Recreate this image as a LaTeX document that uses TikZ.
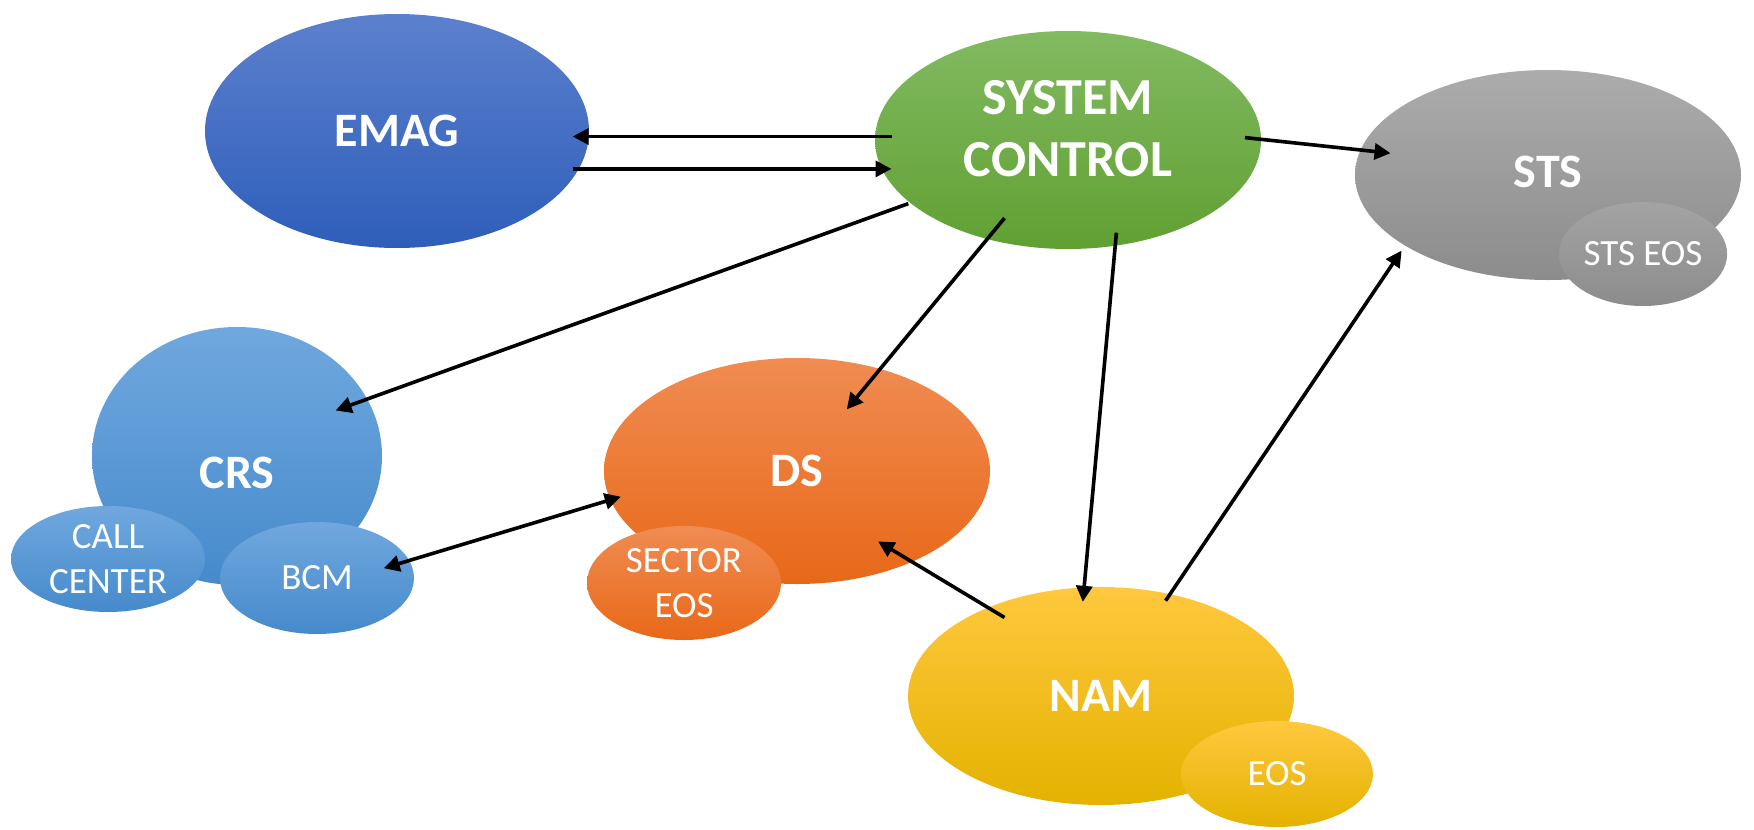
\documentclass[tikz,border=0pt]{standalone}
\usepackage{fontspec}
\setmainfont{Carlito}
\usetikzlibrary{arrows.meta,calc,shapes.geometric}
\definecolor{emagT}{RGB}{92,128,205}
\definecolor{emagB}{RGB}{46,94,186}
\definecolor{scT}{RGB}{130,186,97}
\definecolor{scB}{RGB}{96,160,50}
\definecolor{stsT}{RGB}{172,172,172}
\definecolor{stsB}{RGB}{140,140,140}
\definecolor{crsT}{RGB}{112,168,222}
\definecolor{crsB}{RGB}{70,138,204}
\definecolor{dsT}{RGB}{240,140,82}
\definecolor{dsB}{RGB}{232,104,24}
\definecolor{namT}{RGB}{255,200,62}
\definecolor{namM}{RGB}{255,194,10}
\definecolor{namB}{RGB}{228,178,0}
\begin{document}
\begin{tikzpicture}[x=1pt,y=-1pt,
  bub/.style={ellipse, inner sep=0pt, text=white, font=\fontsize{48}{60}\selectfont\bfseries, align=center},
  sub/.style={ellipse, inner sep=0pt, text=white, font=\fontsize{37}{45}\selectfont, align=center},
  arr/.style={line width=3.6pt, -{Triangle[length=16pt,width=16pt]}},
  arrb/.style={line width=3.6pt, {Triangle[length=16pt,width=16pt]}-{Triangle[length=16pt,width=16pt]}},
]
\fill[white] (0,0) rectangle (1754,830);
\useasboundingbox (0,0) rectangle (1754,830);

% main bubbles
\node[bub, minimum width=384pt, minimum height=234pt, top color=emagT, bottom color=emagB] (emag) at (397,131) {EMAG};
\node[bub, minimum width=386pt, minimum height=218pt, top color=scT, bottom color=scB,
      label={[bub, font=\fontsize{52}{62}\selectfont\bfseries, yshift=11pt]center:SYSTEM\\CONTROL}] (sc) at (1068,140) {};
\node[bub, minimum width=386pt, minimum height=210pt, top color=stsT, bottom color=stsB] (sts) at (1548,175) {\raisebox{6pt}{STS}};
\node[sub, minimum width=160pt, minimum height=104pt, top color=stsT!95!black, bottom color=stsB] (stseos) at (1643,254) {STS EOS};

\node[bub, minimum width=290pt, minimum height=258pt, top color=crsT, bottom color=crsB,
      label={[bub, yshift=-17pt]center:CRS}] (crs) at (237,456) {};
\node[sub, minimum width=194pt, minimum height=106pt, top color=crsT, bottom color=crsB] (call) at (108,559) {CALL\\CENTER};
\node[sub, minimum width=194pt, minimum height=112pt, top color=crsT, bottom color=crsB] (bcm) at (317,578) {BCM};

\node[bub, minimum width=386pt, minimum height=226pt, top color=dsT, bottom color=dsB] (ds) at (797,471) {DS};
\node[sub, minimum width=194pt, minimum height=114pt, top color=dsT, bottom color=dsB] (sector) at (684,583) {SECTOR\\EOS};

\node[bub, minimum width=386pt, minimum height=218pt, top color=namT, middle color=namM, bottom color=namB] (nam) at (1101,696) {NAM};
\node[sub, minimum width=192pt, minimum height=106pt, top color=namT, middle color=namM, bottom color=namB] (eos) at (1277,774) {EOS};

% connectors
\draw[arr] ($(sc)+(-176.5,-3.5)$) -- ($(emag)+(175.7,5.5)$);
\draw[arr] ($(emag)+(175.7,37.9)$) -- ($(sc)+(-176.5,28.9)$);
\draw[arr] ($(sc)+(177,-2.4)$) -- ($(sts)+(-157.5,-21.8)$);
\draw[arr] ($(sc)+(-159.7,63.6)$) -- ($(crs)+(98.6,-45.5)$);
\draw[arr] ($(sc)+(-63.5,78.1)$) -- ($(ds)+(49.8,-61.6)$);
\draw[arr] ($(sc)+(48.4,92.7)$) -- ($(nam)+(-18.2,-94.2)$);
\draw[arr] ($(nam)+(64.6,-95.3)$) -- ($(sts)+(-146.4,75.6)$);
\draw[arrb] ($(bcm)+(66.7,-9.8)$) -- ($(ds)+(-176.2,25.7)$);
\draw[arr] ($(nam)+(-96.5,-78.5)$) -- ($(ds)+(81.1,70.4)$);
\end{tikzpicture}
\end{document}
